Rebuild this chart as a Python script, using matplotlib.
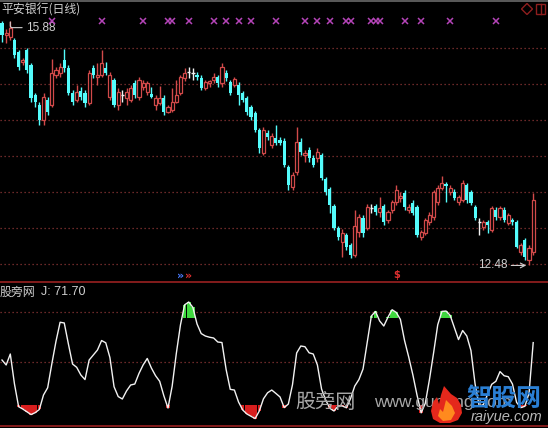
import matplotlib
matplotlib.use('Agg')
import matplotlib.pyplot as plt
import numpy as np
from matplotlib.patches import Polygon, Rectangle
from matplotlib.lines import Line2D

# ---------------- data ----------------
title = '平安银行(日线)'
indicator_name = '股旁网'

opens = [15.85, 15.68, 15.65, 15.61, 15.44, 15.31, 15.47, 15.26, 14.85, 14.71,
         14.50, 14.78, 14.71, 15.13, 15.15, 15.33, 15.22, 14.88, 14.78, 14.90,
         14.88, 14.74, 15.22, 15.10, 15.13, 15.22, 14.82, 15.06, 14.71, 14.85,
         14.81, 14.78, 15.01, 14.82, 14.96, 14.89, 14.86, 14.71, 14.74, 14.81,
         14.61, 14.64, 14.75, 14.88, 15.08, 15.17, 15.15, 15.13, 15.08, 14.94,
         15.01, 15.06, 15.10, 15.01, 15.15, 15.03, 14.99, 14.99, 14.88, 14.81,
         14.68, 14.60, 14.36, 14.04, 14.32, 14.15, 14.25, 14.22, 14.21, 13.85,
         13.57, 13.78, 14.19, 14.01, 14.08, 13.97, 13.97, 14.01, 13.68, 13.54,
         13.31, 13.00, 12.81, 12.90, 12.76, 12.63, 12.94, 13.14, 13.00, 13.28,
         13.31, 13.22, 13.31, 13.11, 13.25, 13.36, 13.42, 13.49, 13.25, 13.35,
         13.29, 12.88, 12.93, 13.08, 13.15, 13.36, 13.56, 13.61, 13.50, 13.50,
         13.36, 13.39, 13.60, 13.50, 13.29, 13.08, 13.01, 13.08, 12.97, 13.25,
         13.15, 13.25, 13.07, 13.11, 13.08, 12.67, 12.83, 12.56, 12.67]
closes = [15.68, 15.71, 15.78, 15.40, 15.24, 15.33, 15.19, 14.81, 14.75, 14.50,
          14.82, 14.61, 15.15, 15.19, 15.24, 15.22, 14.88, 14.75, 14.89, 14.82,
          14.74, 15.15, 15.13, 15.13, 15.29, 15.15, 15.13, 14.71, 14.89, 14.85,
          14.89, 14.94, 14.85, 15.06, 15.01, 15.01, 14.82, 14.81, 14.80, 14.61,
          14.68, 14.75, 14.85, 15.10, 15.15, 15.17, 15.15, 15.10, 14.94, 15.03,
          15.04, 15.10, 15.01, 15.24, 15.08, 14.88, 15.07, 14.85, 14.78, 14.61,
          14.54, 14.36, 14.11, 14.36, 14.26, 14.28, 14.18, 14.18, 13.88, 13.60,
          13.74, 14.19, 14.06, 14.04, 13.97, 13.88, 14.06, 13.69, 13.50, 13.32,
          13.00, 12.88, 12.93, 12.74, 12.63, 13.03, 13.15, 12.93, 13.29, 13.28,
          13.22, 13.28, 13.08, 13.22, 13.36, 13.53, 13.44, 13.29, 13.29, 13.21,
          12.90, 12.94, 13.11, 13.18, 13.50, 13.56, 13.63, 13.59, 13.56, 13.42,
          13.43, 13.63, 13.39, 13.35, 13.14, 13.08, 13.08, 13.04, 13.28, 13.15,
          13.28, 13.11, 13.18, 13.08, 12.74, 12.76, 12.60, 12.72, 13.39]
highs = [15.87, 15.77, 15.88, 15.64, 15.47, 15.36, 15.50, 15.29, 14.88, 14.75,
         14.88, 14.82, 15.35, 15.24, 15.29, 15.49, 15.26, 14.92, 14.99, 14.96,
         14.92, 15.19, 15.26, 15.29, 15.47, 15.31, 15.17, 15.08, 14.94, 14.92,
         14.94, 14.99, 15.06, 15.10, 15.06, 15.04, 14.96, 14.85, 14.97, 14.85,
         14.71, 14.94, 15.06, 15.13, 15.22, 15.24, 15.22, 15.17, 15.13, 15.06,
         15.06, 15.15, 15.13, 15.29, 15.19, 15.06, 15.10, 15.03, 14.90, 14.84,
         14.71, 14.63, 14.39, 14.40, 14.36, 14.32, 14.43, 14.26, 14.25, 13.88,
         13.78, 14.40, 14.25, 14.08, 14.13, 14.01, 14.11, 14.04, 13.71, 13.57,
         13.33, 13.03, 12.99, 12.93, 12.79, 13.25, 13.19, 13.18, 13.33, 13.33,
         13.33, 13.43, 13.33, 13.25, 13.39, 13.60, 13.50, 13.53, 13.33, 13.39,
         13.32, 12.97, 13.14, 13.22, 13.53, 13.60, 13.72, 13.64, 13.60, 13.54,
         13.46, 13.66, 13.63, 13.53, 13.32, 13.14, 13.11, 13.11, 13.31, 13.29,
         13.31, 13.29, 13.21, 13.14, 13.11, 12.79, 12.86, 12.76, 13.49]
lows = [15.58, 15.57, 15.61, 15.36, 15.20, 15.26, 15.15, 14.75, 14.68, 14.43,
        14.43, 14.57, 14.68, 15.08, 15.10, 15.17, 14.85, 14.71, 14.75, 14.78,
        14.68, 14.71, 15.08, 14.99, 15.10, 15.13, 14.78, 14.68, 14.64, 14.75,
        14.71, 14.75, 14.81, 14.78, 14.92, 14.85, 14.81, 14.64, 14.71, 14.57,
        14.60, 14.61, 14.74, 14.85, 15.04, 15.08, 15.06, 15.06, 14.92, 14.92,
        14.96, 15.01, 14.96, 14.96, 15.04, 14.85, 14.96, 14.71, 14.75, 14.57,
        14.50, 14.33, 14.04, 14.01, 14.22, 14.11, 14.15, 14.15, 13.85, 13.53,
        13.53, 13.74, 14.01, 13.92, 13.92, 13.85, 13.92, 13.66, 13.46, 13.21,
        12.97, 12.83, 12.60, 12.69, 12.58, 12.60, 12.88, 12.88, 12.97, 13.21,
        13.18, 13.15, 13.04, 13.07, 13.21, 13.32, 13.36, 13.25, 13.21, 13.18,
        12.88, 12.83, 12.90, 13.04, 13.11, 13.32, 13.53, 13.36, 13.46, 13.39,
        13.32, 13.36, 13.35, 13.32, 13.11, 12.90, 12.97, 12.93, 12.94, 13.11,
        13.11, 13.08, 13.04, 13.04, 12.72, 12.63, 12.56, 12.48, 12.63]

j_values = [51.7, 46.0, 58.6, 24.3, -1.9, -4.6, -7.8, -11.0, -8.8, -5.1,
            11.5, 19.8, 47.1, 73.0, 95.1, 94.3, 70.1, 47.1, 43.3, 34.5,
            29.2, 51.7, 57.5, 63.2, 74.1, 71.5, 54.6, 21.0, 9.7, 6.9,
            16.1, 23.0, 24.1, 36.2, 46.0, 53.5, 42.5, 33.7, 27.2, 10.6,
            -3.5, 21.6, 59.1, 92.0, 115.1, 118.4, 112.1, 93.1, 82.1, 79.3,
            77.9, 77.0, 72.4, 71.8, 40.9, 18.0, 17.2, 3.4, -5.7, -10.3,
            -13.0, -15.6, -6.9, 7.1, 14.1, 17.2, 13.3, 9.2, -3.0, 1.1,
            23.4, 59.8, 67.8, 67.0, 60.0, 58.6, 46.0, 18.4, 5.7, -3.8,
            -6.9, -1.1, -1.1, -3.2, 7.5, 21.8, 29.2, 41.4, 72.0, 102.3,
            107.5, 96.6, 90.8, 100.9, 109.5, 106.4, 98.4, 74.1, 55.2, 34.7,
            11.5, -9.0, 2.0, 29.3, 60.0, 92.3, 107.6, 108.0, 102.9, 88.9,
            75.2, 85.6, 79.3, 62.6, 24.1, -1.5, 0.5, 12.3, 23.8, 27.2,
            38.4, 33.6, 32.5, 24.1, 3.0, -3.0, -1.5, 13.8, 71.70]

signal_x_idx = [12, 24, 34, 40, 41, 45, 51, 54, 57, 60, 66, 73, 76, 79, 83,
                84, 89, 90, 91, 97, 101, 108, 119]
price_grid = [12.5, 13.0, 13.5, 14.0, 14.5, 15.0, 15.5]
j_grid = [50.0, 107.0]
j_high, j_low = 100.0, 0.0
buy_idx = 44
dollar_idx = 95

# ---------------- style ----------------
plt.rcParams['font.family'] = ['Noto Sans CJK SC', 'DejaVu Sans']
BG = '#000000'
RED = '#D24A4A'
CYAN = '#54FCFC'
WHITE = '#F2F2F2'
GRID = '#8E3636'
BORDER = '#8E1E1E'
TXT = '#CFCFCF'
LAT = ['Liberation Sans', 'DejaVu Sans']

W, H = 548, 428
fig = plt.figure(figsize=(W / 100, H / 100), dpi=100, facecolor=BG)

def fxy(x, y):
    return (x / W, 1 - y / H)

ax = fig.add_axes([0, 1 - 282 / H, 1, 282 / H], facecolor=BG)
ax2 = fig.add_axes([0, 2 / H, 1, 144 / H], facecolor=BG)

n = len(opens)
idx = np.arange(n)
o = np.array(opens); c = np.array(closes)
h = np.array(highs); l = np.array(lows)
up = c > o
dn = c < o
dj = c == o

for lev in price_grid:
    ax.axhline(lev, color=GRID, lw=0.9, ls=(0, (1, 2.2)), zorder=1)

ax.vlines(idx[up], l[up], h[up], color=RED, lw=1.0, zorder=2)
ax.vlines(idx[dn], l[dn], h[dn], color=CYAN, lw=1.0, zorder=2)
ax.vlines(idx[dj], l[dj], h[dj], color=WHITE, lw=1.0, zorder=2)
ax.bar(idx[up], c[up] - o[up], bottom=o[up], width=0.76, facecolor=BG,
       edgecolor=RED, linewidth=0.9, zorder=3)
ax.bar(idx[dn], o[dn] - c[dn], bottom=c[dn], width=0.76, color=CYAN,
       linewidth=0, zorder=3)
ax.hlines(c[dj], idx[dj] - 0.4, idx[dj] + 0.4, color=WHITE, lw=1.0, zorder=3)

xmin, xmax = -2 / 4.15, 546 / 4.15
ax.set_xlim(xmin, xmax)
ax.set_ylim(12.5 - 18 / 72, 12.5 + 264 / 72)
ax.axis('off')

# signal crosses at top
trans = ax.get_xaxis_transform()
ax.plot(signal_x_idx, [1 - 21 / 282] * len(signal_x_idx), ls='none', marker='x',
        ms=4, mew=1.1, color='#B444B8', transform=trans, zorder=4)

# max / min labels
imax = int(np.argmax(h)); imin = int(np.argmin(l))
ax.annotate(f'{h[imax]:.2f}', xy=(imax, h[imax]), xytext=(16, -7),
            textcoords='offset pixels', ha='left', va='center', color=TXT,
            fontsize=8.5, family=LAT,
            arrowprops=dict(arrowstyle='-', color=TXT, lw=0.8, shrinkA=1, shrinkB=1,
                            connectionstyle='angle,angleA=0,angleB=90,rad=2'))
ax.annotate(f'{l[imin]:.2f}', xy=(imin, l[imin]), xytext=(-22, 0),
            textcoords='offset pixels', ha='right', va='center', color=TXT,
            fontsize=8.5, family=LAT,
            arrowprops=dict(arrowstyle='->', color=TXT, lw=0.8, shrinkA=1, shrinkB=2))

# signal glyphs at the bottom of price panel
ax.text(buy_idx, 1 - 276 / 282, '»', color='#4A7CFF', ha='right', va='center',
        fontsize=8, fontweight='bold', transform=trans, family='DejaVu Sans')
ax.text(buy_idx, 1 - 276 / 282, '»', color='#E03030', ha='left', va='center',
        fontsize=8, fontweight='bold', transform=trans, family='DejaVu Sans')
ax.text(dollar_idx, 1 - 275 / 282, '$', color='#E03030', ha='center', va='center',
        fontsize=7, fontweight='bold', transform=trans, family='DejaVu Sans')

# ---------------- J panel ----------------
jv = np.array(j_values)
for lev in j_grid:
    ax2.axhline(lev, color=GRID, lw=0.9, ls=(0, (1, 2.2)), zorder=1)
hi = jv > j_high
lo = jv < j_low
ax2.bar(idx[hi], jv[hi] - j_high, bottom=j_high, width=0.85, color='#3FD83F',
        linewidth=0, zorder=2)
ax2.bar(idx[lo], jv[lo] - j_low, bottom=j_low, width=0.85, color='#D81E1E',
        linewidth=0, zorder=2)
ax2.plot(idx, jv, color=WHITE, lw=1.0, zorder=3)
ax2.set_xlim(xmin, xmax)
ax2.set_ylim((405 - 426) / 0.87, (405 - 282) / 0.87)
ax2.set_xticks([]); ax2.set_yticks([])
for s in ['left', 'right']:
    ax2.spines[s].set_visible(False)
for s in ['top', 'bottom']:
    ax2.spines[s].set_color(BORDER)
    ax2.spines[s].set_linewidth(1.3)

# ---------------- texts ----------------
fig.text(*fxy(1, 10), title, color=TXT, fontsize=8.6, ha='left', va='center')
fig.text(*fxy(0, 292), indicator_name, color=TXT, fontsize=8.6, ha='left', va='center')
fig.text(*fxy(41, 292), f'J: {j_values[-1]:.2f}', color=TXT, fontsize=9,
         ha='left', va='center', family=LAT)

# watermarks (behind the logo)
fig.text(*fxy(295, 402), '股旁网', color='#A8A8A8', fontsize=14.5, ha='left', va='center')
fig.text(*fxy(374, 402), 'www.gupang.com', color='#A8A8A8', fontsize=12.5, ha='left',
         va='center', family=LAT, zorder=1)
# flame logo
flame = [(444, 386), (451, 394), (457, 398), (461, 405), (462, 413), (458, 420),
         (450, 423), (440, 423), (433, 419), (431, 411), (433, 402), (437, 397),
         (439, 404), (441, 395)]
inner = [(446, 400), (452, 406), (455, 413), (451, 420), (443, 421), (438, 416),
         (440, 409), (443, 412)]
fig.add_artist(Polygon([fxy(*p) for p in flame], closed=True, facecolor='#E4281C',
                       edgecolor='none', transform=fig.transFigure, zorder=5))
fig.add_artist(Polygon([fxy(*p) for p in inner], closed=True, facecolor='#FF8A1E',
                       edgecolor='none', transform=fig.transFigure, zorder=6))
fig.text(*fxy(466, 399), '智股网', color='#2A7FD4', fontsize=18, ha='left',
         va='center', fontweight='bold', zorder=7)
fig.text(*fxy(471, 417), 'raiyue.com', color='#B8B8B8', fontsize=10.5, ha='left',
         va='center', style='italic', family=LAT, zorder=7)

# top border and icons
fig.add_artist(Line2D([0, 1], [1 - 0.5 / H, 1 - 0.5 / H], color='#6A6A6A', lw=1.2,
                      transform=fig.transFigure))
dia = [fxy(527, 3.5), fxy(532.5, 9), fxy(527, 14.5), fxy(521.5, 9)]
fig.add_artist(Polygon(dia, closed=True, fill=False, edgecolor=BORDER, lw=1,
                       transform=fig.transFigure))
x0, y0 = fxy(536, 14)
fig.add_artist(Rectangle((x0, y0), 9 / W, 10 / H, fill=False, edgecolor=BORDER, lw=1,
                         transform=fig.transFigure))
fig.add_artist(Line2D([541 / W, 541 / W], [1 - 4 / H, 1 - 14 / H], color=BORDER, lw=1,
                      transform=fig.transFigure))

fig.savefig('out.png', dpi=100, facecolor=BG)
